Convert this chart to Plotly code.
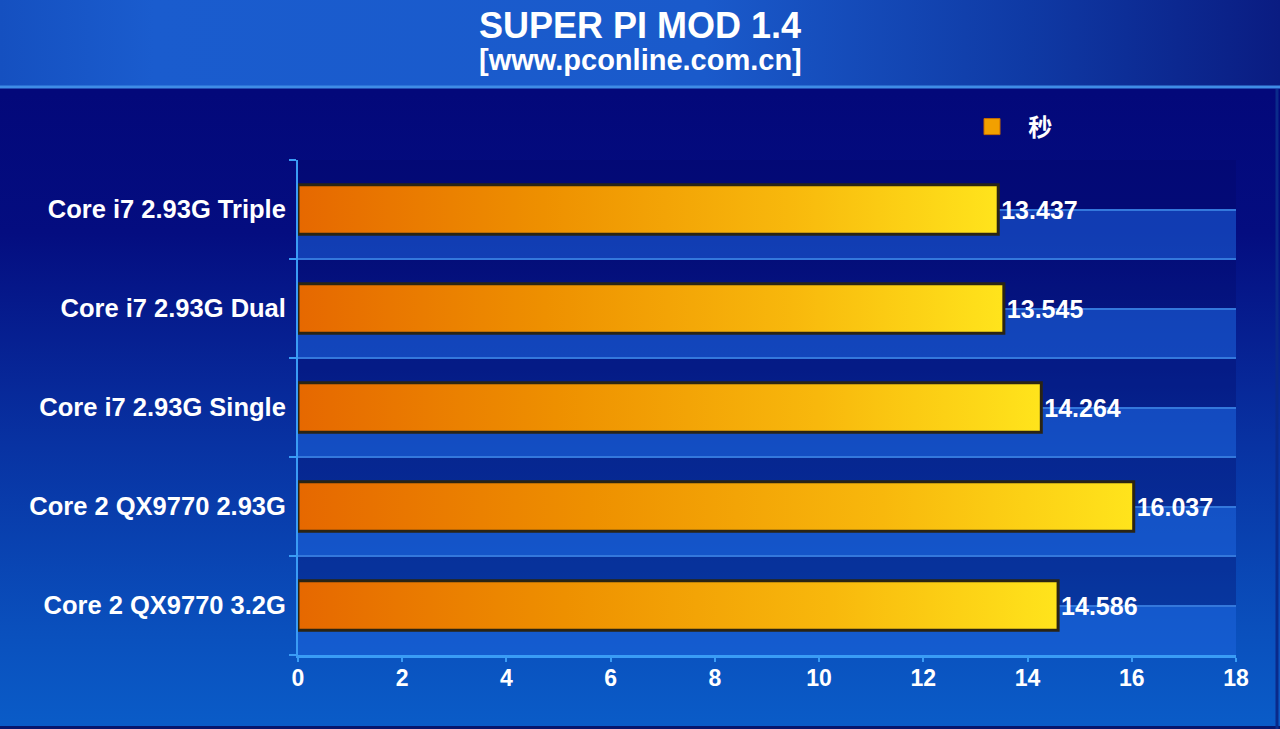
import plotly.graph_objects as go

# ---------------- data ----------------
categories = [
    "Core i7 2.93G Triple",
    "Core i7 2.93G Dual",
    "Core i7 2.93G Single",
    "Core 2 QX9770 2.93G",
    "Core 2 QX9770 3.2G",
]
seconds = [13.437, 13.545, 14.264, 16.037, 14.586]
series_name = "秒"
x_tick_values = [0, 2, 4, 6, 8, 10, 12, 14, 16, 18]
title_text = "SUPER PI MOD 1.4"
subtitle_text = "[www.pconline.com.cn]"

# ---------------- styling ----------------
W, H = 1280, 729
FONT = "Liberation Sans, Arial, sans-serif"
CJK = "Noto Sans CJK SC, sans-serif"
AXIS_BLUE = "#3a9cf5"
GRID_BLUE = "#3478dc"
BAR_W = 0.5

n = len(categories)
pos = [n - 1 - i for i in range(n)]  # first category on top

fig = go.Figure()

# ---- page background (pixel-space helper axes x / y) ----
fig.add_trace(go.Scatter(
    x=[0, W, W, 0, 0], y=[86, 86, H, H, 86], mode="lines", line=dict(width=0),
    fill="toself",
    fillgradient=dict(type="vertical", start=92, stop=H,
                      colorscale=[[0, "#03087a"], [0.22, "#040d80"], [0.55, "#0832a2"],
                                  [0.85, "#0a50bd"], [1, "#0a5cc8"]]),
    xaxis="x", yaxis="y", hoverinfo="skip", showlegend=False))
fig.add_trace(go.Scatter(
    x=[0, W, W, 0, 0], y=[0, 0, 88, 88, 0], mode="lines", line=dict(width=0),
    fill="toself",
    fillgradient=dict(type="horizontal", start=0, stop=W,
                      colorscale=[[0, "#1550c0"], [0.12, "#1a5cce"], [0.55, "#1a5acb"],
                                  [0.8, "#0f3aa5"], [1, "#0a1c82"]]),
    xaxis="x", yaxis="y", hoverinfo="skip", showlegend=False))
# header underline and frame
fig.add_trace(go.Scatter(x=[0, W], y=[87, 87], mode="lines",
                         line=dict(color="#3f8ce6", width=3),
                         xaxis="x", yaxis="y", hoverinfo="skip", showlegend=False))
fig.add_trace(go.Scatter(x=[0, W], y=[H - 1.5, H - 1.5], mode="lines",
                         line=dict(color="#06166e", width=3),
                         xaxis="x", yaxis="y", hoverinfo="skip", showlegend=False))
fig.add_trace(go.Scatter(x=[W - 3, W - 3], y=[89, H], mode="lines",
                         line=dict(color="#0a2a8a", width=3),
                         xaxis="x", yaxis="y", hoverinfo="skip", showlegend=False))

# ---- bars: gradient fill drawn per bar in data coordinates ----
for p, v in zip(pos, seconds):
    y0, y1 = p - BAR_W / 2, p + BAR_W / 2
    fig.add_trace(go.Scatter(
        x=[0, v, v, 0, 0], y=[y0, y0, y1, y1, y0], mode="lines",
        line=dict(color="#2a2414", width=3),
        fill="toself",
        fillgradient=dict(type="horizontal",
                          colorscale=[[0, "#e66800"], [0.35, "#ee9000"],
                                      [0.7, "#f8b80c"], [1, "#ffe41c"]]),
        xaxis="x2", yaxis="y2", hoverinfo="skip", showlegend=False))

# bar outline + value labels
fig.add_trace(go.Bar(
    x=seconds, y=pos, orientation="h", width=BAR_W,
    marker=dict(color="rgba(0,0,0,0)", line=dict(color="#f3d68a", width=1.5)),
    text=[f"{v:.3f}" for v in seconds], textposition="outside",
    textfont=dict(color="white", size=25, family=FONT, weight="bold"),
    cliponaxis=False, xaxis="x2", yaxis="y2", showlegend=False,
    hovertemplate="%{x}<extra></extra>"))

# legend-only entry
fig.add_trace(go.Scatter(
    x=[None], y=[None], mode="markers", name="\u00a0\u00a0\u00a0" + series_name,
    marker=dict(symbol="square", size=16, color="#f2a000",
                line=dict(color="#c86a00", width=1)),
    xaxis="x2", yaxis="y2", showlegend=True))

# ---- row bands ----
shapes = []
for p in pos:
    shapes.append(dict(type="rect", xref="x2", yref="y2", x0=0, x1=18,
                       y0=p - 0.5, y1=p, fillcolor="rgba(30,100,220,0.55)",
                       line=dict(width=0), layer="below"))
    shapes.append(dict(type="rect", xref="x2", yref="y2", x0=0, x1=18,
                       y0=p, y1=p + 0.5, fillcolor="rgba(2,8,100,0.30)",
                       line=dict(width=0), layer="below"))

fig.update_layout(
    template="none",
    width=W, height=H, autosize=False,
    margin=dict(l=0, r=0, t=0, b=0, pad=0, autoexpand=False),
    paper_bgcolor="#03087a",
    plot_bgcolor="rgba(0,0,0,0)",
    shapes=shapes,
    showlegend=True,
    legend=dict(x=972 / W, y=1 - 127 / H, xanchor="left", yanchor="middle",
                bgcolor="rgba(0,0,0,0)", borderwidth=0,
                font=dict(color="white", size=24, family=CJK, weight="bold")),
    xaxis=dict(domain=[0, 1], range=[0, W], visible=False, fixedrange=True,
               automargin=False),
    yaxis=dict(domain=[0, 1], range=[H, 0], visible=False, fixedrange=True,
               automargin=False),
    xaxis2=dict(domain=[298 / W, 1236 / W], anchor="y2", range=[0, 18],
                automargin=False,
                tickmode="array", tickvals=x_tick_values,
                ticks="outside", ticklen=4, tickwidth=2, tickcolor=AXIS_BLUE,
                showline=True, linecolor=AXIS_BLUE, linewidth=3,
                showgrid=False, zeroline=False, ticklabelstandoff=-4,
                tickfont=dict(color="white", size=23, family=FONT, weight="bold")),
    yaxis2=dict(domain=[(H - 655) / H, (H - 160) / H], anchor="x2",
                range=[-0.5, n - 0.5], automargin=False,
                tickmode="array", tickvals=pos, ticktext=categories,
                ticks="", showline=True, linecolor=AXIS_BLUE, linewidth=2,
                showgrid=True, gridcolor=GRID_BLUE, gridwidth=2,
                zeroline=False, ticklabelstandoff=5,
                minor=dict(tickmode="array",
                           tickvals=[p + 0.5 for p in range(-1, n)],
                           ticks="outside", ticklen=7, tickwidth=2, tickcolor=AXIS_BLUE,
                           showgrid=True, gridcolor=GRID_BLUE, gridwidth=2),
                tickfont=dict(color="white", size=25.5, family=FONT, weight="bold")),
    annotations=[
        dict(xref="paper", yref="paper", x=0.5, y=1 - 25 / H, text=title_text,
             showarrow=False, xanchor="center", yanchor="middle",
             font=dict(color="white", size=36, family=FONT, weight="bold")),
        dict(xref="paper", yref="paper", x=0.5, y=1 - 60 / H, text=subtitle_text,
             showarrow=False, xanchor="center", yanchor="middle",
             font=dict(color="white", size=29, family=FONT, weight="bold")),
    ],
)

fix_page = (
    "document.body.style.margin='0';"
    "document.body.style.overflow='hidden';"
    "var gd=document.getElementById('{plot_id}');"
    "gd.style.width='1280px';gd.style.height='729px';"
    "Plotly.relayout(gd,{width:1280,height:729,autosize:false});"
)

fig.write_html("out.html",
               config={"responsive": False, "displayModeBar": False},
               post_script=fix_page)
